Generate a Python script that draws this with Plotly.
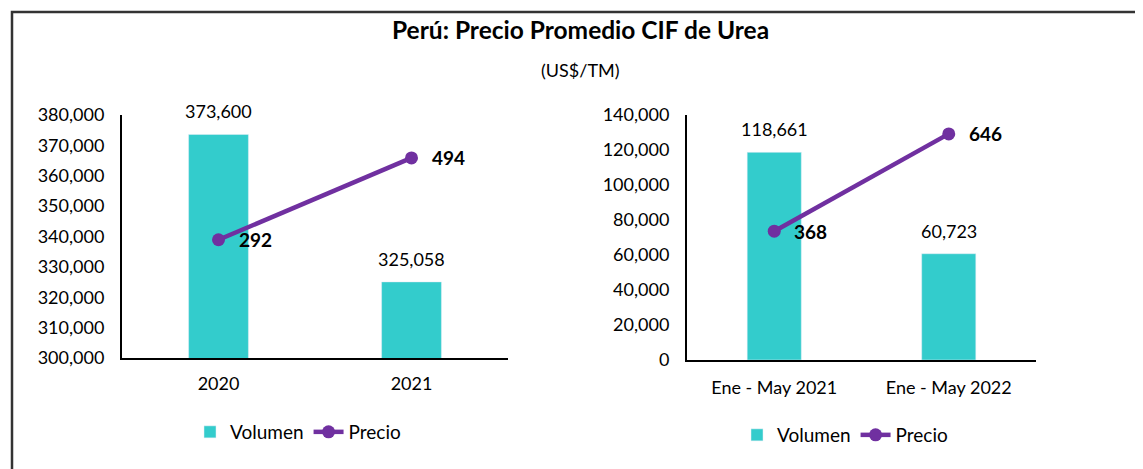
import plotly.graph_objects as go

# ---- data ----
years = ["2020", "2021"]
volumen_anual = [373600, 325058]
precio_anual = [292, 494]

periodos = ["Ene - May 2021", "Ene - May 2022"]
volumen_periodo = [118661, 60723]
precio_periodo = [368, 646]

title_text = "Perú: Precio Promedio CIF de Urea"
subtitle_text = "(US$/TM)"

BAR_COLOR = "#33CCCC"
LINE_COLOR = "#7030A0"
FONT = "Lato"
W, H = 1143, 469
OFF = 8  # page body margin

fig = go.Figure()

# Left chart
fig.add_trace(go.Bar(x=years, y=volumen_anual, name="Volumen", marker_color=BAR_COLOR,
                     xaxis="x", yaxis="y", legend="legend"))
fig.add_trace(go.Scatter(x=years, y=precio_anual, name="Precio", mode="lines+markers",
                         line=dict(color=LINE_COLOR, width=4.5),
                         marker=dict(color=LINE_COLOR, size=13),
                         xaxis="x", yaxis="y2", legend="legend"))
# Right chart
fig.add_trace(go.Bar(x=periodos, y=volumen_periodo, name="Volumen", marker_color=BAR_COLOR,
                     xaxis="x2", yaxis="y3", legend="legend2"))
fig.add_trace(go.Scatter(x=periodos, y=precio_periodo, name="Precio", mode="lines+markers",
                         line=dict(color=LINE_COLOR, width=4.5),
                         marker=dict(color=LINE_COLOR, size=13),
                         xaxis="x2", yaxis="y4", legend="legend2"))

def px_x(p):
    return (p - OFF) / W

def px_y(p):
    return (H - (p - OFF)) / H

tickfont = dict(family=FONT, size=18, color="#000000")
axis_common = dict(showgrid=False, zeroline=False, showline=True, linecolor="#000000",
                   linewidth=2, ticks="", tickfont=tickfont, automargin=False)

annotations = []
# category axes: annotations placed by category index so numeric-looking names stay categories
for i, v in enumerate(volumen_anual):
    annotations.append(dict(x=i, y=v, xref="x", yref="y", text=f"{v:,}", showarrow=False,
                            yanchor="bottom", yshift=10, font=dict(family=FONT, size=18, color="#000")))
for i, v in enumerate(precio_anual):
    annotations.append(dict(x=i, y=v, xref="x", yref="y2", text=f"<b>{v:,}</b>", showarrow=False,
                            xanchor="left", xshift=18, yanchor="middle",
                            font=dict(family=FONT, size=19, color="#000")))
for i, v in enumerate(volumen_periodo):
    annotations.append(dict(x=i, y=v, xref="x2", yref="y3", text=f"{v:,}", showarrow=False,
                            yanchor="bottom", yshift=10, font=dict(family=FONT, size=18, color="#000")))
for i, v in enumerate(precio_periodo):
    annotations.append(dict(x=i, y=v, xref="x2", yref="y4", text=f"<b>{v:,}</b>", showarrow=False,
                            xanchor="left", xshift=18, yanchor="middle",
                            font=dict(family=FONT, size=19, color="#000")))

annotations.append(dict(x=px_x(580), y=px_y(30), xref="paper", yref="paper", text=f"<b>{title_text}</b>",
                        showarrow=False, xanchor="center", yanchor="middle",
                        font=dict(family=FONT, size=24.5, color="#000")))
annotations.append(dict(x=px_x(580), y=px_y(70), xref="paper", yref="paper", text=subtitle_text,
                        showarrow=False, xanchor="center", yanchor="middle",
                        font=dict(family=FONT, size=18, color="#000")))

fig.update_layout(
    width=W, height=H,
    margin=dict(l=0, r=0, t=0, b=0, autoexpand=False),
    paper_bgcolor="white", plot_bgcolor="white",
    bargap=0.69,
    font=dict(family=FONT, color="#000"),
    xaxis=dict(domain=[px_x(122), px_x(508)], anchor="y", type="category", range=[-0.5, 1.5],
               ticklabelstandoff=8, **axis_common),
    yaxis=dict(domain=[px_y(358), px_y(115)], anchor="x", range=[300000, 380000], dtick=10000,
               tickformat=",", ticklabelstandoff=12, **axis_common),
    yaxis2=dict(overlaying="y", anchor="x", range=[0, 600], visible=False),
    xaxis2=dict(domain=[px_x(687), px_x(1036)], anchor="y3", type="category", range=[-0.5, 1.5],
                ticklabelstandoff=10, **axis_common),
    yaxis3=dict(domain=[px_y(360), px_y(115)], anchor="x2", range=[0, 140000], dtick=20000,
                tickformat=",", ticklabelstandoff=12, **axis_common),
    yaxis4=dict(overlaying="y3", anchor="x2", range=[0, 700], visible=False),
    legend=dict(orientation="h", x=px_x(298), xanchor="center", y=px_y(432), yanchor="middle",
                font=dict(family=FONT, size=19, color="#000"), bgcolor="rgba(0,0,0,0)"),
    legend2=dict(orientation="h", x=px_x(845), xanchor="center", y=px_y(435), yanchor="middle",
                 font=dict(family=FONT, size=19, color="#000"), bgcolor="rgba(0,0,0,0)"),
    annotations=annotations,
    shapes=[dict(type="rect", xref="paper", yref="paper", x0=px_x(12), x1=1.05,
                 y0=-0.05, y1=px_y(12), line=dict(color="#333333", width=2.5))],
)

fig.write_html("out.html")
